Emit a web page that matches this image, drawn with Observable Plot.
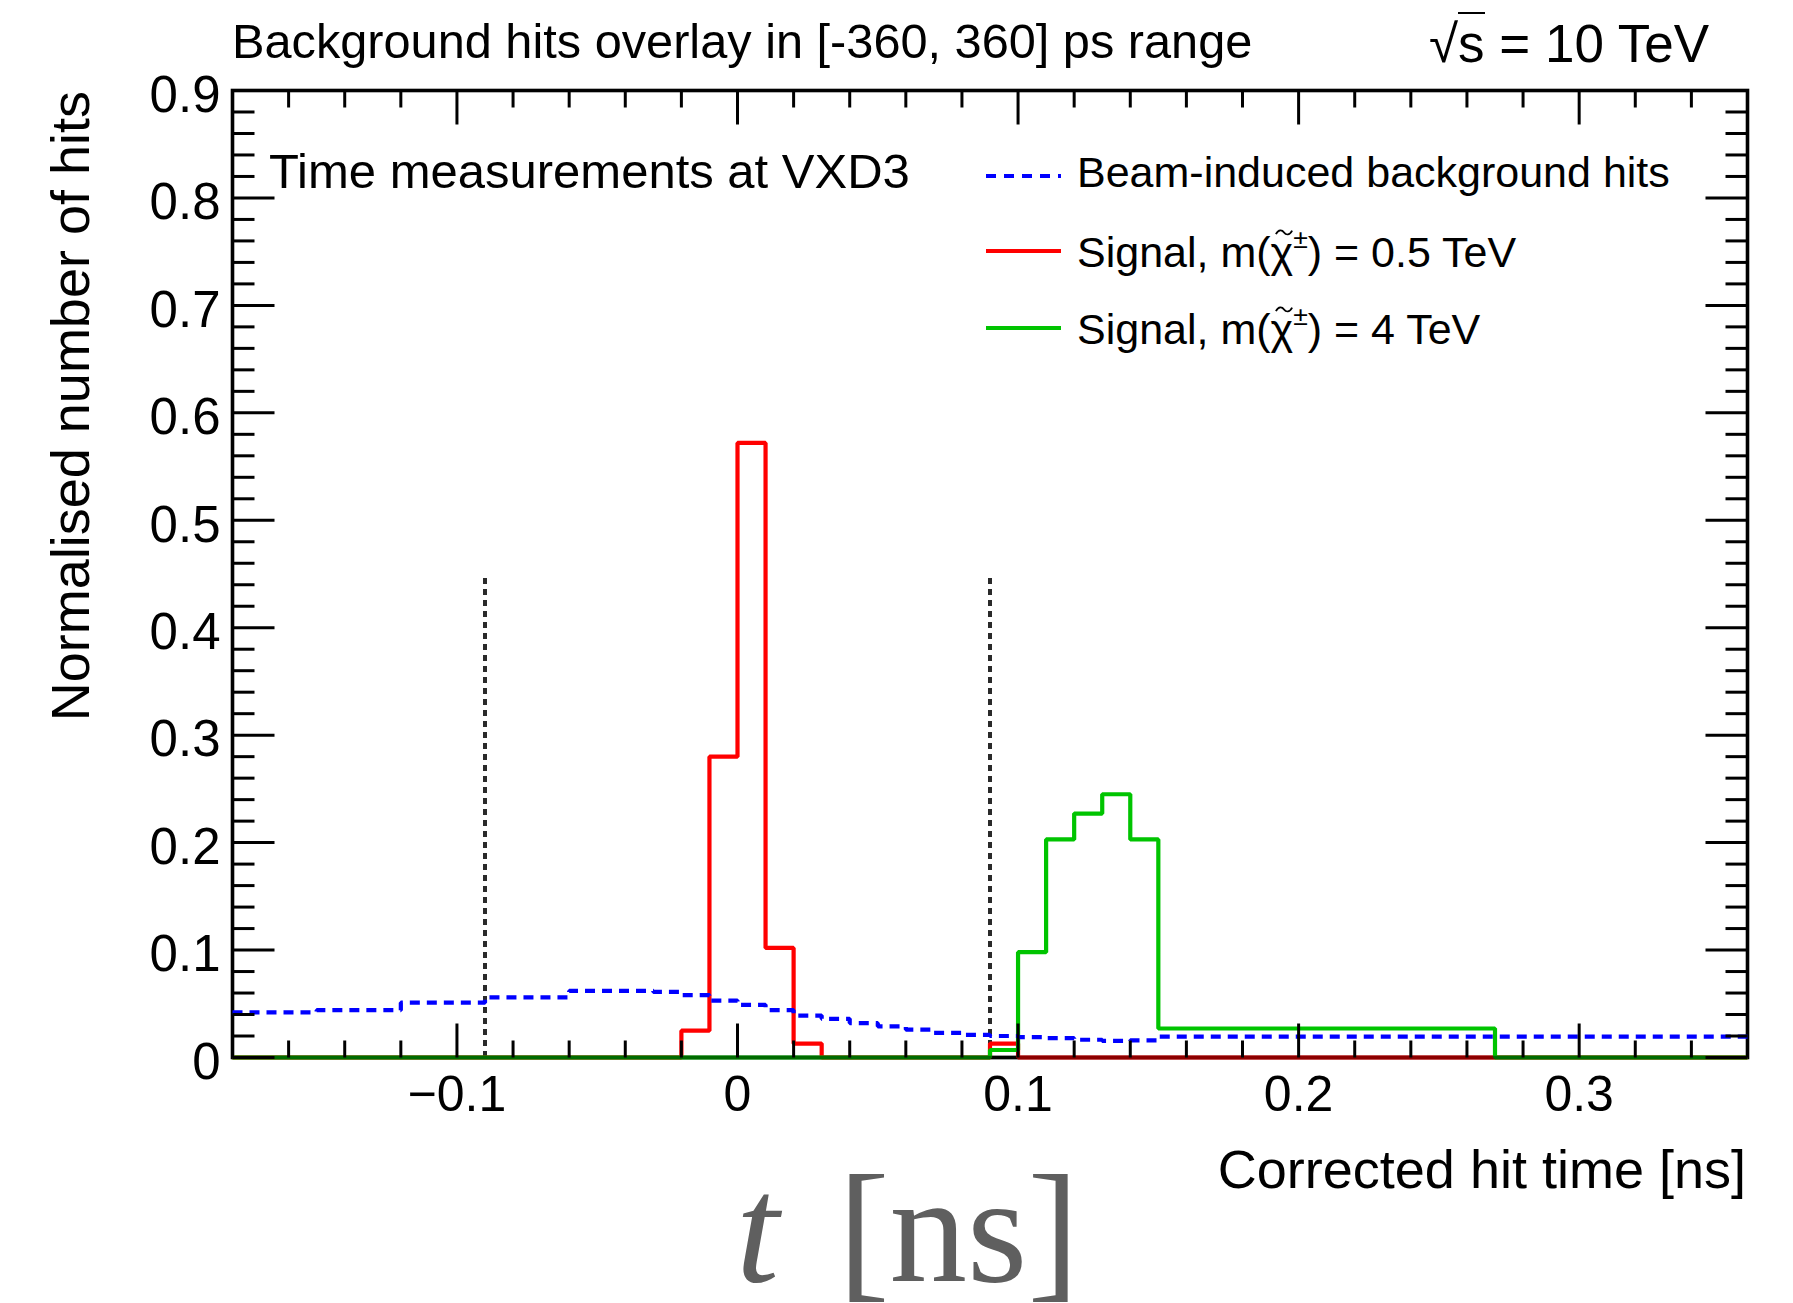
<!DOCTYPE html>
<html><head><meta charset="utf-8">
<script src="https://cdn.jsdelivr.net/npm/d3@7"></script>
<script src="https://cdn.jsdelivr.net/npm/@observablehq/plot@0.6"></script>
<style>
html,body{margin:0;padding:0;background:#fff;overflow:hidden;}
#page{position:relative;width:1793px;height:1303px;overflow:hidden;background:#fff;font-family:"Liberation Sans",Arial,Helvetica,sans-serif;color:#000;}
#chart{position:absolute;left:0;top:0;}
.lbl{position:absolute;white-space:nowrap;line-height:1;}
.chi{position:relative;display:inline-block;}
.tilde{position:absolute;left:0.1em;top:-0.06em;width:0.42em;height:0.16em;overflow:visible;}
.sup{font-size:0.62em;vertical-align:0.72em;}
</style></head><body><div id="page"><div id="chart"></div></div>
<script>
// ---- data ----
const binEdges = [-0.18, -0.15, -0.12, -0.09, -0.06, -0.03, -0.02, -0.01, 0.00, 0.01, 0.02, 0.03, 0.04, 0.05, 0.06, 0.07, 0.08, 0.09, 0.10, 0.11, 0.12, 0.13, 0.14, 0.15, 0.27, 0.36];
const backgroundHits = [0.042, 0.044, 0.051, 0.056, 0.062, 0.061, 0.058, 0.053, 0.049, 0.044, 0.039, 0.036, 0.032, 0.029, 0.026, 0.023, 0.021, 0.020, 0.019, 0.018, 0.0165, 0.0155, 0.016, 0.0195, 0.0195];
const signal05TeV = [0, 0, 0, 0, 0, 0, 0.025, 0.280, 0.572, 0.102, 0.013, 0, 0, 0, 0, 0, 0, 0.013, 0, 0, 0, 0, 0, 0, 0];
const signal4TeV = [0, 0, 0, 0, 0, 0, 0, 0, 0, 0, 0, 0, 0, 0, 0, 0, 0, 0.007, 0.098, 0.203, 0.227, 0.245, 0.203, 0.027, 0];
const cutLines = [-0.09, 0.09];
const cutLineTop = [0.45];
const xTickLabels = [-0.1, 0, 0.1, 0.2, 0.3];
const yTickLabels = [0, 0.1, 0.2, 0.3, 0.4, 0.5, 0.6, 0.7, 0.8, 0.9];
const seriesNames = ["Beam-induced background hits", "Signal, m(\u03C7\u0303\u00B1) = 0.5 TeV", "Signal, m(\u03C7\u0303\u00B1) = 4 TeV"];
const seriesColors = ["#0000ff", "#ff0000", "#00c400"];
const titleText = "Background hits overlay in [-360, 360] ps range";
const energyText = "= 10 TeV";
const innerText = "Time measurements at VXD3";
const xTitle = "Corrected hit time [ns]";
const yTitle = "Normalised number of hits";

// ---- helpers ----
function steps(values) {
  const pts = values.map((v, i) => ({x: binEdges[i], y: v}));
  pts.push({x: binEdges[binEdges.length - 1], y: values[values.length - 1]});
  return pts;
}
const fmt = d => d === 0 ? "0" : d3.format(".1f")(d);
const near = (a, list) => list.some(t => Math.abs(t - a) < 1e-9);
const xMinor = d3.ticks(-0.18, 0.36, 27).filter(v => !near(v, xTickLabels));
const yMinor = d3.ticks(0, 0.9, 45).filter(v => !near(v, yTickLabels));
const up = {draw(c, l) { c.moveTo(0, 0); c.lineTo(0, -l); }};
const down = {draw(c, l) { c.moveTo(0, 0); c.lineTo(0, l); }};
const right = {draw(c, l) { c.moveTo(0, 0); c.lineTo(l, 0); }};
const left = {draw(c, l) { c.moveTo(0, 0); c.lineTo(-l, 0); }};
const tk = {stroke: "black", strokeWidth: 3, anchor: "start", strokeLinecap: "butt"};
const hist = {x: "x", y: "y", curve: "step-after", strokeWidth: 4.2, strokeLinejoin: "miter", strokeLinecap: "butt"};

const chart = Plot.plot({
  width: 1793, height: 1303,
  marginLeft: 232, marginRight: 46, marginTop: 90, marginBottom: 246,
  x: {domain: [-0.18, 0.36]},
  y: {domain: [0, 0.9]},
  style: {background: "transparent", fontFamily: "'Liberation Sans', Arial, Helvetica, sans-serif", color: "black", overflow: "visible"},
  marks: [
    Plot.frame({stroke: "black", strokeWidth: 3.6}),
    Plot.ruleX(cutLines, {x: d => d, y1: 0, y2: cutLineTop[0], stroke: "#2a2a2a", strokeWidth: 4, strokeDasharray: "6,5", strokeLinecap: "butt"}),
    Plot.line(steps(signal05TeV), {...hist, stroke: seriesColors[1]}),
    Plot.line(steps(signal4TeV), {...hist, stroke: seriesColors[2]}),
    Plot.line(steps(backgroundHits), {...hist, stroke: seriesColors[0], strokeDasharray: "10,7"}),
    Plot.ruleY([0], {stroke: "black", strokeOpacity: 0.45, strokeWidth: 3.6}),
    Plot.vector(xTickLabels, {x: d => d, frameAnchor: "bottom", length: 34, shape: up, ...tk}),
    Plot.vector(xMinor, {x: d => d, frameAnchor: "bottom", length: 17, shape: up, ...tk}),
    Plot.vector(xTickLabels, {x: d => d, frameAnchor: "top", length: 34, shape: down, ...tk}),
    Plot.vector(xMinor, {x: d => d, frameAnchor: "top", length: 17, shape: down, ...tk}),
    Plot.vector(yTickLabels, {y: d => d, frameAnchor: "left", length: 42, shape: right, ...tk}),
    Plot.vector(yMinor, {y: d => d, frameAnchor: "left", length: 22, shape: right, ...tk}),
    Plot.vector(yTickLabels, {y: d => d, frameAnchor: "right", length: 42, shape: left, ...tk}),
    Plot.vector(yMinor, {y: d => d, frameAnchor: "right", length: 22, shape: left, ...tk}),
    Plot.axisX(xTickLabels, {anchor: "bottom", tickSize: 0, tickPadding: 18, fontSize: 50, tickFormat: fmt, label: null}),
    Plot.axisY(yTickLabels, {anchor: "left", tickSize: 0, tickPadding: 12, fontSize: 51, tickFormat: fmt, label: null, dy: 5})
  ]
});
document.getElementById("chart").appendChild(chart);

// ---- text overlays ----
const page = document.getElementById("page");
function addLabel(html, css) {
  const d = document.createElement("div");
  d.className = "lbl";
  d.innerHTML = html;
  Object.assign(d.style, css);
  page.appendChild(d);
  return d;
}
const tildeSvg = '<svg class="tilde" viewBox="0 0 20 8" preserveAspectRatio="none"><path d="M1,6 C4,0 8,1 10,4 S16,8 19,2" fill="none" stroke="#000" stroke-width="2"/></svg>';
const richText = s => s.replace("\u03C7\u0303\u00B1", '<span class="chi">\u03C7' + tildeSvg + '</span><span class="sup">\u00B1</span>');

addLabel(titleText, {left: "232px", top: "17px", fontSize: "48.7px"});
addLabel('\u221A<span style="border-top:2.5px solid #000;">s</span> ' + energyText, {left: "1429px", top: "17px", fontSize: "53px"});
addLabel(innerText, {left: "269px", top: "147px", fontSize: "49px"});
addLabel(xTitle, {right: "47px", top: "1142px", fontSize: "54px"});
addLabel(yTitle, {left: "0px", top: "0px", width: "700px", textAlign: "right", fontSize: "54px", transformOrigin: "0 0", transform: "translate(43px, 791px) rotate(-90deg)"});

// legend
const rowCenters = [173, 248, 325];
seriesNames.forEach((name, i) => {
  const dash = i === 0 ? 'stroke-dasharray="10,8"' : '';
  addLabel(`<svg width="75" height="10"><line x1="0" y1="5" x2="75" y2="5" stroke="${seriesColors[i]}" stroke-width="4" ${dash}/></svg>`,
    {left: "986px", top: (rowCenters[i] - 5) + "px"});
  addLabel(richText(name), {left: "1077px", top: (rowCenters[i] - 22) + "px", fontSize: "43px"});
});

// big LaTeX-like axis caption at the bottom
addLabel('<i>t</i>', {left: "736px", top: "1152px", fontSize: "155px", fontFamily: "'Liberation Serif', 'DejaVu Serif', serif", color: "#5f5f5f"});
addLabel('[ns]', {left: "838px", top: "1152px", fontSize: "155px", fontFamily: "'Liberation Serif', 'DejaVu Serif', serif", color: "#5f5f5f"});
</script>
</body></html>
